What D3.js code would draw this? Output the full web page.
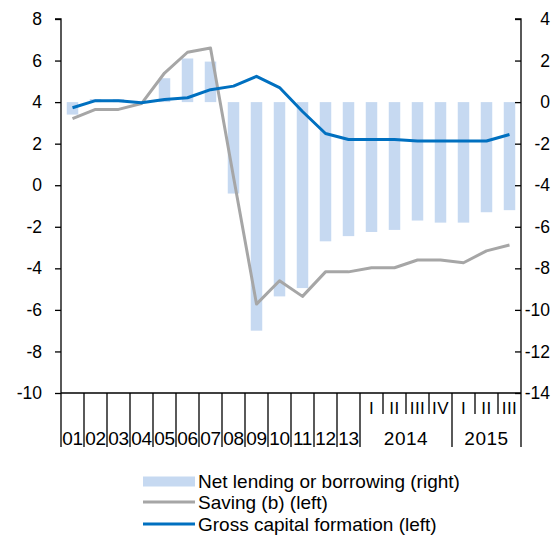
<!DOCTYPE html>
<html><head><meta charset="utf-8">
<script src="https://cdn.jsdelivr.net/npm/d3@7"></script>
<style>
html,body{margin:0;padding:0;background:#fff;}
svg{display:block;font-family:"Liberation Sans",Arial,sans-serif;}
</style></head>
<body><svg id="c" width="553" height="535"></svg>
<script>
// ---- data ----
const categories = ["01","02","03","04","05","06","07","08","09","10","11","12","13",
  "2014 I","2014 II","2014 III","2014 IV","2015 I","2015 II","2015 III"];
const periodLabels = ["01","02","03","04","05","06","07","08","09","10","11","12","13",
  "I","II","III","IV","I","II","III"];
const yearGroups = [{label:"2014", from:13, to:16},{label:"2015", from:17, to:19}];
const netLending = [-0.6,0.15,0.15,0.0,1.15,2.1,1.95,-4.4,-11.0,-9.35,-8.95,-6.7,-6.45,-6.25,-6.15,-5.7,-5.8,-5.8,-5.3,-5.2];
const saving = [3.2,3.65,3.65,3.93,5.4,6.4,6.6,0.4,-5.72,-4.6,-5.35,-4.17,-4.17,-3.97,-3.97,-3.6,-3.6,-3.73,-3.16,-2.88];
const gcf = [3.73,4.07,4.07,3.97,4.13,4.21,4.6,4.77,5.24,4.7,3.55,2.49,2.2,2.2,2.2,2.13,2.13,2.13,2.13,2.44];
const leftTicks = [8,6,4,2,0,-2,-4,-6,-8,-10];
const rightTicks = [4,2,0,-2,-4,-6,-8,-10,-12,-14];
const legendItems = ["Net lending or borrowing (right)","Saving (b) (left)","Gross capital formation (left)"];

// ---- layout ----
const L = 61, R = 521, T = 19, B = 393;
const svg = d3.select("#c");
const x = d3.scaleBand().domain(categories).range([L,R]).paddingInner(0.5).paddingOuter(0.25);
const step = x.step();
const yL = d3.scaleLinear().domain([-10,8]).range([B,T]);
const yR = d3.scaleLinear().domain([-14,4]).range([B,T]);
const cx = (d,i) => x(categories[i]) + x.bandwidth()/2;
const fmt = d => String(d); // plain hyphen-minus like the reference

// bars
svg.append("g").selectAll("rect").data(netLending).join("rect")
  .attr("x",(d,i)=>x(categories[i]))
  .attr("width",x.bandwidth())
  .attr("y",d=>Math.min(yR(d),yR(0)))
  .attr("height",d=>Math.abs(yR(d)-yR(0)))
  .attr("fill","#c6d9f1");

// lines
const lineL = d3.line().x((d,i)=>cx(d,i)).y(d=>yL(d));
svg.append("path").datum(saving).attr("d",lineL)
  .attr("fill","none").attr("stroke","#a6a6a6").attr("stroke-width",3).attr("stroke-linejoin","round");
svg.append("path").datum(gcf).attr("d",lineL)
  .attr("fill","none").attr("stroke","#0070c0").attr("stroke-width",3).attr("stroke-linejoin","round");

// axes
const axL = svg.append("g").attr("transform",`translate(${L},0)`)
  .call(d3.axisLeft(yL).tickValues(leftTicks).tickSize(6).tickPadding(13).tickFormat(fmt));
const axR = svg.append("g").attr("transform",`translate(${R},0)`)
  .call(d3.axisLeft(yR).tickValues(rightTicks).tickSize(6).tickFormat(fmt));
[axL,axR].forEach(a=>{
  a.select(".domain").attr("d",`M-6,${T}H0V${B}`).attr("stroke","#000").attr("stroke-width",1.3);
  a.selectAll(".tick line").attr("stroke","#000").attr("stroke-width",1.3);
  a.selectAll("text").attr("font-size",17.5).attr("fill","#000")
   .attr("font-family","Liberation Sans, Arial, sans-serif");
});
axR.selectAll(".tick text").attr("text-anchor","end").attr("x",29);

// x axis line
svg.append("line").attr("x1",L).attr("x2",R).attr("y1",B).attr("y2",B)
  .attr("stroke","#000").attr("stroke-width",1.3);

// separators
const sepG = svg.append("g").attr("stroke","#000").attr("stroke-width",1.3);
categories.forEach((c,i)=>{
  const xs = x(c) - x.step()*x.paddingInner()/2;
  const isQuarterInner = (i>13 && i<=16) || (i>17 && i<=19);
  sepG.append("line").attr("x1",xs).attr("x2",xs).attr("y1",B).attr("y2",isQuarterInner?414:447);
});
sepG.append("line").attr("x1",R).attr("x2",R).attr("y1",B).attr("y2",447);

// period labels
const lab = svg.append("g").attr("fill","#000").attr("text-anchor","middle");
periodLabels.forEach((p,i)=>{
  const isQ = i>=13;
  lab.append("text").attr("x",cx(null,i)).attr("y",isQ?414:445)
    .attr("font-size",isQ?17:19).attr("letter-spacing",isQ?0.5:-0.3).text(p);
});
yearGroups.forEach(g=>{
  const x0 = x(categories[g.from]) - step*0.25, x1 = x(categories[g.to]) + x.bandwidth() + step*0.25;
  lab.append("text").attr("x",(x0+x1)/2).attr("y",445).attr("font-size",19).attr("letter-spacing",0.5).text(g.label);
});

// legend
const lg = svg.append("g").attr("font-size",19).attr("fill","#000");
const ly = [481.5,502,524];
lg.append("rect").attr("x",143).attr("y",ly[0]-5).attr("width",52).attr("height",10).attr("fill","#c6d9f1");
lg.append("line").attr("x1",143).attr("x2",195).attr("y1",ly[1]).attr("y2",ly[1]).attr("stroke","#a6a6a6").attr("stroke-width",3);
lg.append("line").attr("x1",143).attr("x2",195).attr("y1",ly[2]).attr("y2",ly[2]).attr("stroke","#0070c0").attr("stroke-width",3);
legendItems.forEach((t,i)=>{
  lg.append("text").attr("x",198).attr("y",ly[i]).attr("dy","0.35em").text(t);
});
</script></body></html>
